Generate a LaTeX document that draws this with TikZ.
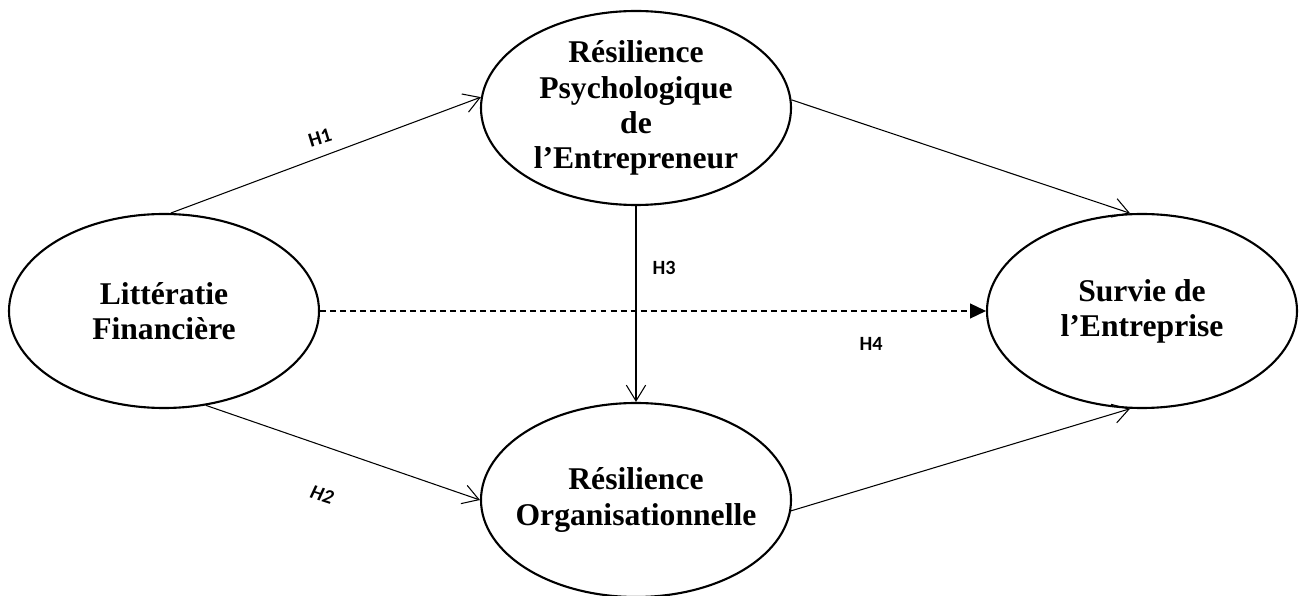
\documentclass[tikz,border=0pt]{standalone}
\usepackage{fontspec}
\setmainfont{Liberation Serif}
\newfontfamily\hypfont{Carlito}
\usepackage{tikz}
\usetikzlibrary{shapes.geometric}
\usetikzlibrary{arrows.meta}
\tikzset{>={Straight Barb[length=9pt, width=11pt]}}
\tikzset{construct/.style={draw, ellipse, line width=1.2pt, inner xsep=-.6cm, inner ysep=-.3cm, minimum width=6.2cm, minimum height=3.88cm, align=center, font=\fontsize{18}{20}\selectfont\bfseries}}
\tikzset{hyp/.style={font=\hypfont\bfseries\fontsize{11.5}{12}\selectfont}}
\tikzset{link/.style={line width=.6pt, ->}}

\begin{document}
\begin{tikzpicture}
    \useasboundingbox (0, 0) rectangle (26, 11.92);
    \node[construct](lit) at (3.28, 5.70){Littératie\\Financière};
    \node[construct](psy) at (12.72, 9.76){Résilience\\Psychologique\\de\\l’Entrepreneur};
    \node[construct](org) at (12.72, 1.92){Résilience\\Organisationnelle};
    \node[construct](surv) at (22.84, 5.70){Survie de\\l’Entreprise};
    \draw[link](lit.86)--(psy.176);
    \draw[link](lit.294)--(org.west);
    \draw[link](psy.south)--(org.north);
    \draw[link](psy.3)--(surv.97);
    \draw[link](org.356)--(surv.263);
    \draw[line width=.6pt, dash pattern=on 3.4pt off 2.3pt, -{Triangle[length=9pt, width=8.5pt]}](lit.east)--(surv.west);
    \node[hyp, rotate=17](h1) at (6.40, 9.16){H1};
    \node[hyp, rotate=-18](h2) at (6.44, 2.02){\itshape H2};
    \node[hyp](h3) at (13.28, 6.56){H3};
    \node[hyp](h4) at (17.42, 5.04){H4};
\end{tikzpicture}
\end{document}
